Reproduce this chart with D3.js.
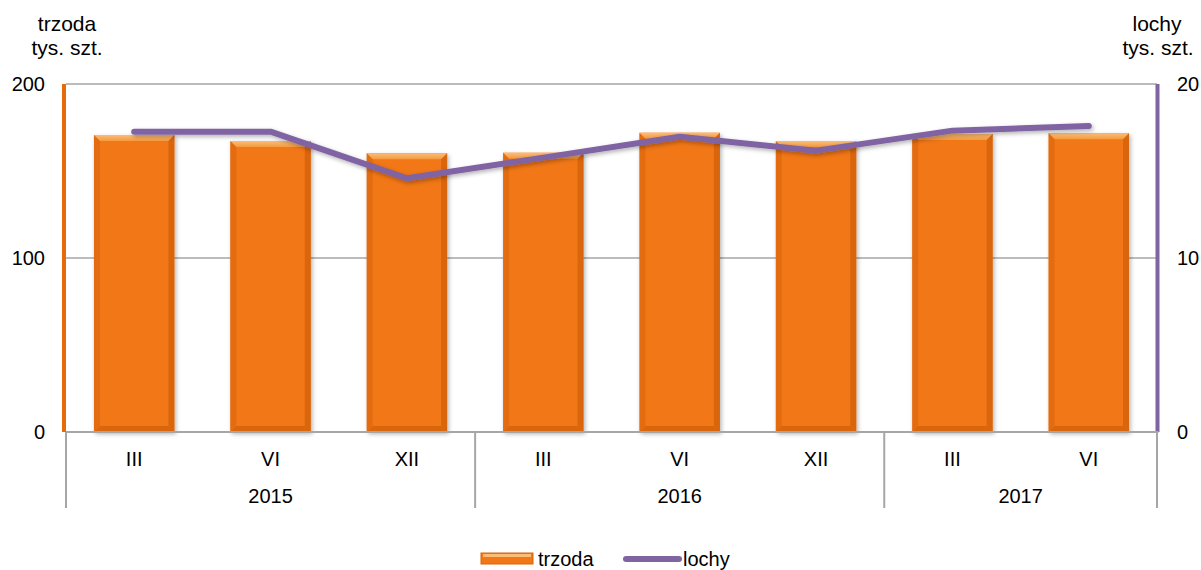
<!DOCTYPE html>
<html>
<head>
<meta charset="utf-8">
<script src="https://cdn.jsdelivr.net/npm/d3@7/dist/d3.min.js"></script>
<style>
  body { margin: 0; background: #fff; }
  text { font-family: "Liberation Sans", Arial, sans-serif; fill: #000; }
</style>
</head>
<body>
<svg id="chart" width="1201" height="570"></svg>
<script>
// data
const months = ["III", "VI", "XII", "III", "VI", "XII", "III", "VI"];
const years = ["2015", "2015", "2015", "2016", "2016", "2016", "2017", "2017"];
const trzoda = [170.7, 167.2, 160.2, 160.5, 172.0, 167.2, 171.3, 171.7];
const lochy = [17.26, 17.26, 14.58, 15.77, 16.97, 16.17, 17.32, 17.59];
const leftTicks = [0, 100, 200];
const rightTicks = [0, 10, 20];

const margin = {top: 84, right: 44, bottom: 138, left: 66};
const width = 1201, height = 570;
const svg = d3.select("#chart");

const idx = d3.range(months.length);
const x = d3.scaleBand()
    .domain(idx)
    .range([margin.left, width - margin.right])
    .paddingInner(0.41)
    .paddingOuter(0.205);
const y = d3.scaleLinear().domain([0, 200]).range([height - margin.bottom, margin.top]);
const y2 = d3.scaleLinear().domain([0, 20]).range([height - margin.bottom, margin.top]);

const x0 = margin.left, x1 = width - margin.right, yb = y(0);

const defs = svg.append("defs");
const shadow = defs.append("filter").attr("id", "shadow")
    .attr("x", "-20%").attr("y", "-20%").attr("width", "140%").attr("height", "140%");
shadow.append("feDropShadow").attr("dx", 1.5).attr("dy", 2).attr("stdDeviation", 2)
    .attr("flood-color", "#000").attr("flood-opacity", 0.3);
const topGrad = defs.append("linearGradient").attr("id", "bevelTop")
    .attr("x1", 0).attr("y1", 0).attr("x2", 0).attr("y2", 1);
topGrad.append("stop").attr("offset", 0).attr("stop-color", "#fbbd78");
topGrad.append("stop").attr("offset", 1).attr("stop-color", "#f59a3e");

// grid
svg.append("g")
  .selectAll("line")
  .data(leftTicks.filter(d => d > 0))
  .join("line")
    .attr("x1", x0).attr("x2", x1)
    .attr("y1", d => y(d)).attr("y2", d => y(d))
    .attr("stroke", "#a6a6a6").attr("stroke-width", 1.5);

// bars with bevel
const bw = x.bandwidth(), bev = 6;
const bars = svg.append("g").selectAll("g").data(idx).join("g");
bars.append("rect")
    .attr("x", i => x(i)).attr("y", i => y(trzoda[i]))
    .attr("width", bw).attr("height", i => yb - y(trzoda[i]))
    .attr("fill", "#f27716").attr("filter", "url(#shadow)");
bars.append("path")
    .attr("fill", "url(#bevelTop)")
    .attr("d", i => {
      const l = x(i), r = l + bw, t = y(trzoda[i]);
      return `M${l},${t}L${r},${t}L${r - bev},${t + bev}L${l + bev},${t + bev}Z`;
    });
bars.append("path")
    .attr("fill", "#d9650c").attr("opacity", 0.55)
    .attr("d", i => {
      const l = x(i), t = y(trzoda[i]);
      return `M${l},${t}L${l + bev},${t + bev}L${l + bev},${yb - bev}L${l},${yb}Z`;
    });
bars.append("path")
    .attr("fill", "#c85a08").attr("opacity", 0.6)
    .attr("d", i => {
      const r = x(i) + bw, t = y(trzoda[i]);
      return `M${r},${t}L${r - bev},${t + bev}L${r - bev},${yb - bev}L${r},${yb}Z`;
    });
bars.append("path")
    .attr("fill", "#c85a08").attr("opacity", 0.6)
    .attr("d", i => {
      const l = x(i), r = l + bw;
      return `M${l},${yb}L${l + bev},${yb - bev}L${r - bev},${yb - bev}L${r},${yb}Z`;
    });

// line
const line = d3.line()
    .x(i => x(i) + bw / 2)
    .y(i => y2(lochy[i]));
svg.append("path")
    .datum(idx)
    .attr("fill", "none")
    .attr("stroke", "#8064a2")
    .attr("stroke-width", 6)
    .attr("stroke-linecap", "round")
    .attr("stroke-linejoin", "round")
    .attr("filter", "url(#shadow)")
    .attr("d", line);

// axis lines
svg.append("line").attr("x1", x0 - 2).attr("x2", x0 - 2).attr("y1", y(200)).attr("y2", yb)
    .attr("stroke", "#e46c0a").attr("stroke-width", 4);
svg.append("line").attr("x1", x1 + 0.5).attr("x2", x1 + 0.5).attr("y1", y(200)).attr("y2", yb)
    .attr("stroke", "#8064a2").attr("stroke-width", 4);
svg.append("line").attr("x1", x0).attr("x2", x1 + 1.5).attr("y1", yb).attr("y2", yb)
    .attr("stroke", "#a6a6a6").attr("stroke-width", 2);

// left / right tick labels
svg.append("g").selectAll("text").data(leftTicks).join("text")
    .attr("x", 45).attr("y", d => y(d)).attr("dy", "0.35em")
    .attr("text-anchor", "end").style("font-size", "20px")
    .text(d => d);
svg.append("g").selectAll("text").data(rightTicks).join("text")
    .attr("x", 1177).attr("y", d => y2(d)).attr("dy", "0.35em")
    .attr("text-anchor", "start").style("font-size", "20px")
    .text(d => d);

// axis titles
const titles = svg.append("g").style("font-size", "21px").attr("text-anchor", "middle");
titles.append("text").attr("x", 67).attr("y", 31).text("trzoda");
titles.append("text").attr("x", 67).attr("y", 55).text("tys. szt.");
titles.append("text").attr("x", 1157).attr("y", 31).text("lochy");
titles.append("text").attr("x", 1158).attr("y", 55).text("tys. szt.");

// category axis (months + years)
svg.append("g").selectAll("text").data(idx).join("text")
    .attr("x", i => x(i) + bw / 2).attr("y", 466)
    .attr("text-anchor", "middle").style("font-size", "20px")
    .text(i => months[i]);
const yearGroups = d3.groups(idx, i => years[i]);
const step = x.step();
const edge = i => x(i) - (step - bw) / 2;
const bounds = yearGroups.map(g => edge(g[1][0])).concat([x1]);
svg.append("g").selectAll("line").data(bounds).join("line")
    .attr("x1", d => d).attr("x2", d => d)
    .attr("y1", yb).attr("y2", 508)
    .attr("stroke", "#a6a6a6").attr("stroke-width", 2);
svg.append("g").selectAll("text").data(yearGroups).join("text")
    .attr("x", g => (edge(g[1][0]) + edge(g[1][g[1].length - 1]) + step) / 2)
    .attr("y", 503)
    .attr("text-anchor", "middle").style("font-size", "20px")
    .text(g => g[0]);

// legend
const lg = svg.append("g");
lg.append("rect").attr("x", 481).attr("y", 553).attr("width", 52).attr("height", 11)
    .attr("fill", "#f27716").attr("stroke", "#d9650c").attr("stroke-width", 1);
lg.append("rect").attr("x", 483).attr("y", 554).attr("width", 48).attr("height", 3)
    .attr("fill", "#fbbd78");
lg.append("text").attr("x", 538).attr("y", 566).style("font-size", "20px").text("trzoda");
lg.append("line").attr("x1", 626).attr("x2", 679).attr("y1", 559).attr("y2", 559)
    .attr("stroke", "#8064a2").attr("stroke-width", 6).attr("stroke-linecap", "round");
lg.append("text").attr("x", 683).attr("y", 566).style("font-size", "20px").text("lochy");
</script>
</body>
</html>
